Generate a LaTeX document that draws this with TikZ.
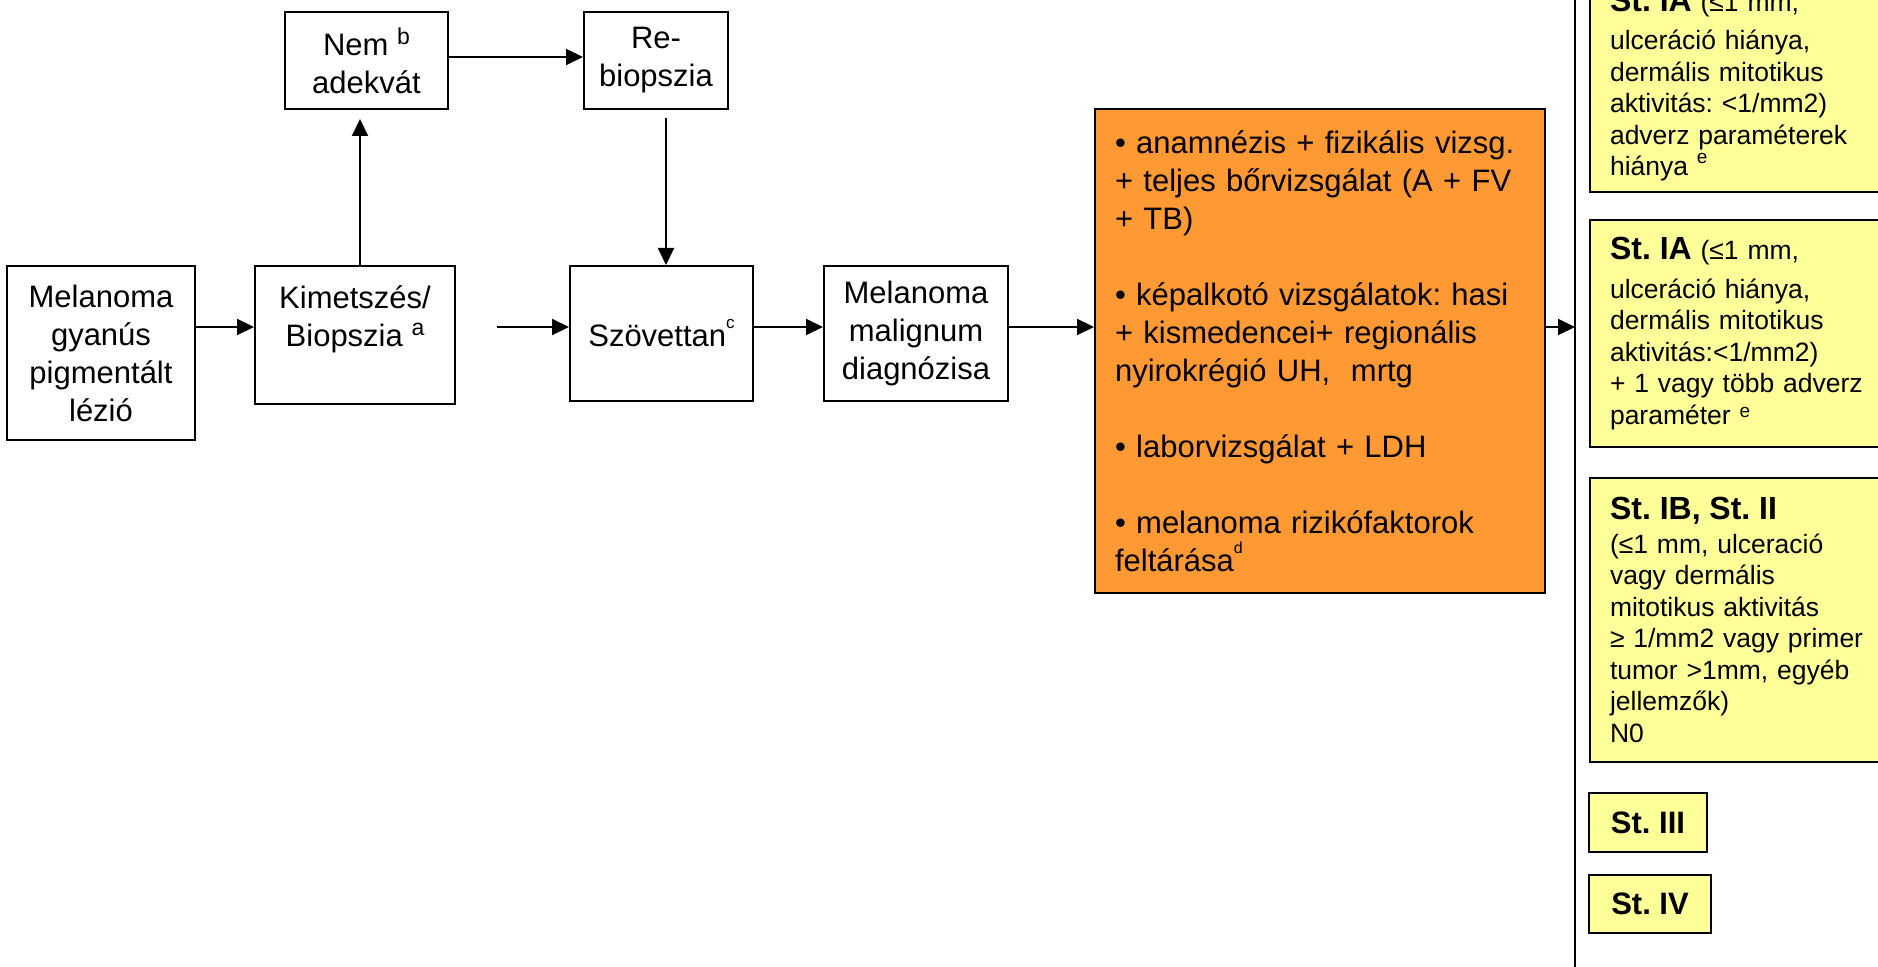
\documentclass[tikz,border=0pt]{standalone}
\usepackage{fontspec}
\setmainfont{Liberation Sans}
\usetikzlibrary{arrows.meta}
\definecolor{orangebox}{HTML}{FF9933}
\definecolor{yellowbox}{HTML}{FFFF99}
\newcommand{\sups}[3]{\raisebox{#1}{\fontsize{#2}{#2}\selectfont #3}}
\frenchspacing
\begin{document}
\frenchspacing
\begin{tikzpicture}[x=0.5pt,y=-0.5pt,
  box/.style={draw=black, line width=1pt, fill=white, align=center, inner sep=0pt,
    font=\fontsize{15.5}{19}\selectfont\frenchspacing},
  arr/.style={line width=1pt, -{Triangle[length=8.5pt,width=8pt]}},
  ybox/.style={draw=black, line width=1pt, fill=yellowbox, align=left, inner xsep=10pt,
    inner ysep=0pt, text width=135pt, minimum width=155pt,
    font=\fontsize{13.25}{15.75}\selectfont\frenchspacing},
  sbox/.style={draw=black, line width=1pt, fill=yellowbox, inner sep=0pt,
    font=\fontsize{15.5}{19}\selectfont\bfseries\frenchspacing}
]
\path[use as bounding box] (0,0) rectangle (1878,967);
\clip (0,0) rectangle (1878,967);
\fill[white] (0,0) rectangle (1878,967);

% left flow
\node[box, minimum width=94pt, minimum height=87pt] (lesion) at (101,353)
  {Melanoma\\gyanús\\pigmentált\\lézió};
\node[box, minimum width=100pt, minimum height=69pt] (kimt) at (355,335)
  {Kimetszés/\\Biopszia \sups{5.5pt}{11.5}{a}\\\mbox{}};
\node[box, minimum width=81.5pt, minimum height=48.5pt] (nem) at (366.5,60.5)
  {Nem \sups{5.5pt}{11.5}{b}\\adekvát};
\node[box, minimum width=72pt, minimum height=48.5pt] (re) at (656,60.5)
  {Re-\\biopszia};
\node[box, minimum width=91.5pt, minimum height=67.5pt] (szov) at (661.5,333.5)
  {Szövettan\sups{9pt}{8.5}{c}};
\node[box, minimum width=92pt, minimum height=67.5pt] (mel) at (916,333.5)
  {Melanoma\\malignum\\diagnózisa};

\node[draw=black, line width=1pt, fill=orangebox, align=left, inner xsep=10pt, inner ysep=0pt,
  text width=205pt, minimum width=225pt, minimum height=242pt,
  font=\fontsize{15.5}{19}\selectfont\frenchspacing] (orange) at (1320,351)
  {• anamnézis + fizikális vizsg.\\
   + teljes bőrvizsgálat (A + FV\\
   + TB)\\[19pt]
   • képalkotó vizsgálatok: hasi\\
   + kismedencei+ regionális\\
   nyirokrégió UH,\ \ mrtg\\[19pt]
   • laborvizsgálat + LDH\\[19pt]
   • melanoma rizikófaktorok\\
   feltárása\sups{9pt}{8}{d}};

% right column
\coordinate (vtop) at (1575,0);
\coordinate (vbot) at (1575,967);
\draw[line width=1.2pt] (vtop) -- (vbot);

\node[ybox, minimum height=107pt] (y1) at (1745,85)
  {{\fontsize{16}{15.75}\selectfont\bfseries St. IA} (≤1 mm,\\[3.5pt]
   ulceráció hiánya,\\
   dermális mitotikus\\
   aktivitás: <1/mm2)\\
   adverz paraméterek\\
   hiánya \sups{6pt}{9.5}{e}};
\node[ybox, minimum height=113.5pt] (y2) at (1745,333.5)
  {{\fontsize{16}{15.75}\selectfont\bfseries St. IA} (≤1 mm,\\[3.5pt]
   ulceráció hiánya,\\
   dermális mitotikus\\
   aktivitás:<1/mm2)\\
   + 1 vagy több adverz\\
   paraméter \sups{3.5pt}{9.5}{e}};
\node[ybox, minimum height=142pt] (y3) at (1745,620)
  {{\fontsize{16}{15.75}\selectfont\bfseries St. IB, St. II}\\[1pt]
   (≤1 mm, ulceració\\
   vagy dermális\\
   mitotikus aktivitás\\
   ≥ 1/mm2 vagy primer\\
   tumor >1mm, egyéb\\
   jellemzők)\\
   N0};
\node[sbox, minimum width=59pt, minimum height=29.5pt] (y4) at (1648,822.5) {St. III};
\node[sbox, minimum width=61pt, minimum height=29pt] (y5) at (1650,904) {St. IV};

% connectors
\coordinate (row) at (0,327);
\coordinate (topr) at (0,57);
\coordinate (upx) at (360,0);
\coordinate (dnx) at (666,0);
\draw[arr] (lesion.east |- row) -- (kimt.west |- row);
\draw[arr, shorten <=20.5pt] (kimt.east |- row) -- (szov.west |- row);
\draw[arr] (szov.east |- row) -- (mel.west |- row);
\draw[arr] (mel.east |- row) -- (orange.west |- row);
\draw[arr] (orange.east |- row) -- (vtop |- row);
\draw[arr, shorten >=4.5pt] (kimt.north -| upx) -- (nem.south -| upx);
\draw[arr] (nem.east |- topr) -- (re.west |- topr);
\draw[arr, shorten <=4pt] (re.south -| dnx) -- (szov.north -| dnx);
\end{tikzpicture}
\end{document}
